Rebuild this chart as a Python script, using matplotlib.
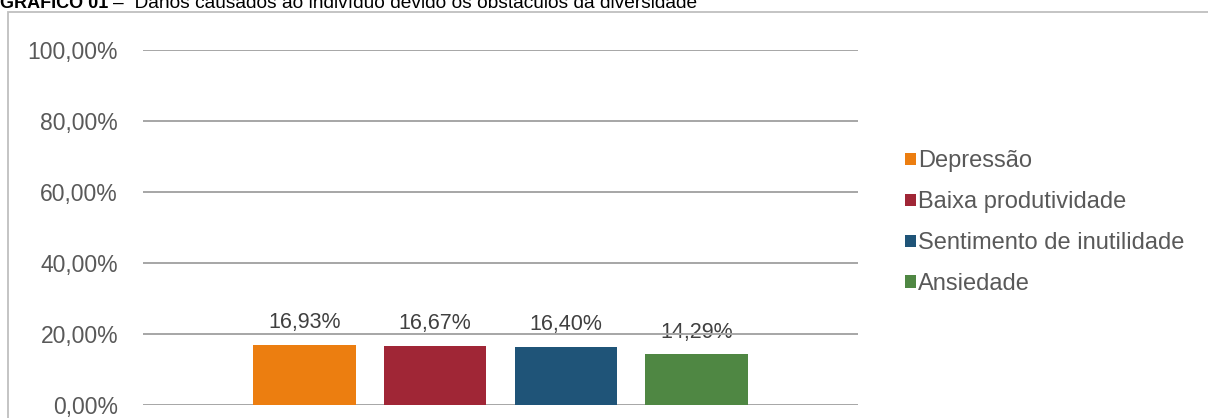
import matplotlib.pyplot as plt
from matplotlib.patches import Rectangle

plt.rcParams['font.family'] = ['Liberation Sans', 'DejaVu Sans']

categorias = ['Depressão', 'Baixa produtividade', 'Sentimento de inutilidade', 'Ansiedade']
valores = [16.93, 16.67, 16.40, 14.29]
cores = ['#EC7E10', '#A02636', '#1F5478', '#4F8743']
yticks = [0, 20, 40, 60, 80, 100]

fig = plt.figure(figsize=(12.08, 4.18), dpi=100)

# moldura do gráfico
fig.patches.append(Rectangle((8 / 1208, -0.1), 1.2, 1 - 12 / 418 + 0.1,
                             transform=fig.transFigure, fill=False,
                             edgecolor='#BFBFBF', linewidth=1.3))

# título (parcialmente cortado no topo)
fig.text(0.0, 1 - 8 / 418, 'GRÁFICO 01', fontsize=13, fontweight='bold',
         color='black', va='baseline', ha='left')
fig.text(113 / 1208, 1 - 8 / 418, '–  Danos causados ao indivíduo devido os obstáculos da diversidade',
         fontsize=13.8, color='black', va='baseline', ha='left')

ax = fig.add_axes([143 / 1208, 1 - 405 / 418, 715 / 1208, 355 / 418])
x = range(len(valores))
bars = ax.bar(x, valores, width=0.785, color=cores, label=categorias, zorder=3)

for xi, v in zip(x, valores):
    ax.text(xi, v + 3.3, f'{v:.2f}%'.replace('.', ','), ha='center', va='bottom',
            fontsize=15.5, color='#404040', zorder=1)

ax.set_ylim(0, 100)
ax.set_xlim(-1.238, 4.238)
ax.set_yticks(yticks)
ax.set_yticklabels([f'{t:.2f}%'.replace('.', ',') for t in yticks])
ax.tick_params(axis='y', length=0, pad=18, labelsize=16.5, labelcolor='#595959')
ax.set_xticks([])
ax.grid(axis='y', color='#A6A6A6', linewidth=1.4, zorder=0)
for s in ax.spines.values():
    s.set_visible(False)

leg = fig.legend(handles=bars, labels=categorias, loc='upper left',
                 bbox_to_anchor=(896 / 1208, 1 - 141 / 418), frameon=False,
                 fontsize=17, handlelength=0.43, handleheight=0.43,
                 handletextpad=0.12, labelspacing=0.8, borderaxespad=0)
for t in leg.get_texts():
    t.set_color('#595959')

fig.savefig('out.png', dpi=100)
